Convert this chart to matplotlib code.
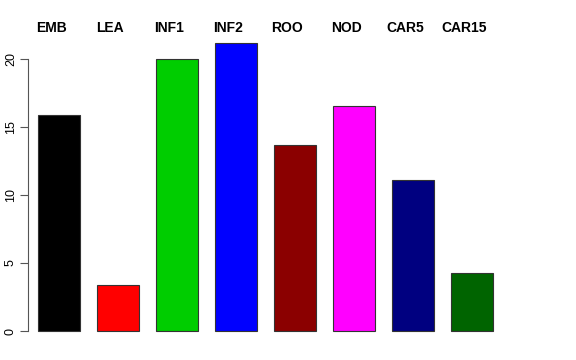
import matplotlib
matplotlib.use("Agg")
import matplotlib.pyplot as plt
import numpy as np

plt.rcParams["font.family"] = ["Liberation Sans", "DejaVu Sans"]

labels = ["EMB", "LEA", "INF1", "INF2", "ROO", "NOD", "CAR5", "CAR15"]
values = [15.9, 3.4, 20.0, 21.2, 13.65, 16.55, 11.1, 4.3]
colors = ["#000000", "#FF0000", "#00CD00", "#0000FF", "#8B0000", "#FF00FF", "#000080", "#006400"]
yticks = [0, 5, 10, 15, 20]

fig = plt.figure(figsize=(5.76, 3.6), dpi=100)
# axes placed in pixels: left 28, right 566, bottom 340, top 35
ax = fig.add_axes([28 / 576, (360 - 340) / 360, (566 - 28) / 576, (340 - 35) / 360])

x = np.arange(len(labels))
ax.bar(x, values, width=0.71, color=colors, edgecolor="#333333", linewidth=0.8)

ax.set_xlim(-0.525, 8.59)
ax.set_ylim(-0.66, 21.76)

for s in ["top", "right", "bottom"]:
    ax.spines[s].set_visible(False)
ax.spines["left"].set_bounds(0, 20)
ax.spines["left"].set_color("#555555")
ax.set_xticks([])
ax.set_yticks(yticks)
ax.set_yticklabels([str(t) for t in yticks], rotation=90, va="center", fontsize=9)
ax.tick_params(axis="y", length=6, color="#555555", pad=2)

# column names above the plot, in figure pixels (y = 28 from the top)
for xi, lab in zip(x, labels):
    xf = ax.transData.transform((xi - 0.135, 0))[0] / fig.bbox.width
    fig.text(xf, 1 - 28 / 360, lab, ha="center", va="center",
             fontweight="bold", fontsize=10)

fig.savefig("out.png", dpi=100)
